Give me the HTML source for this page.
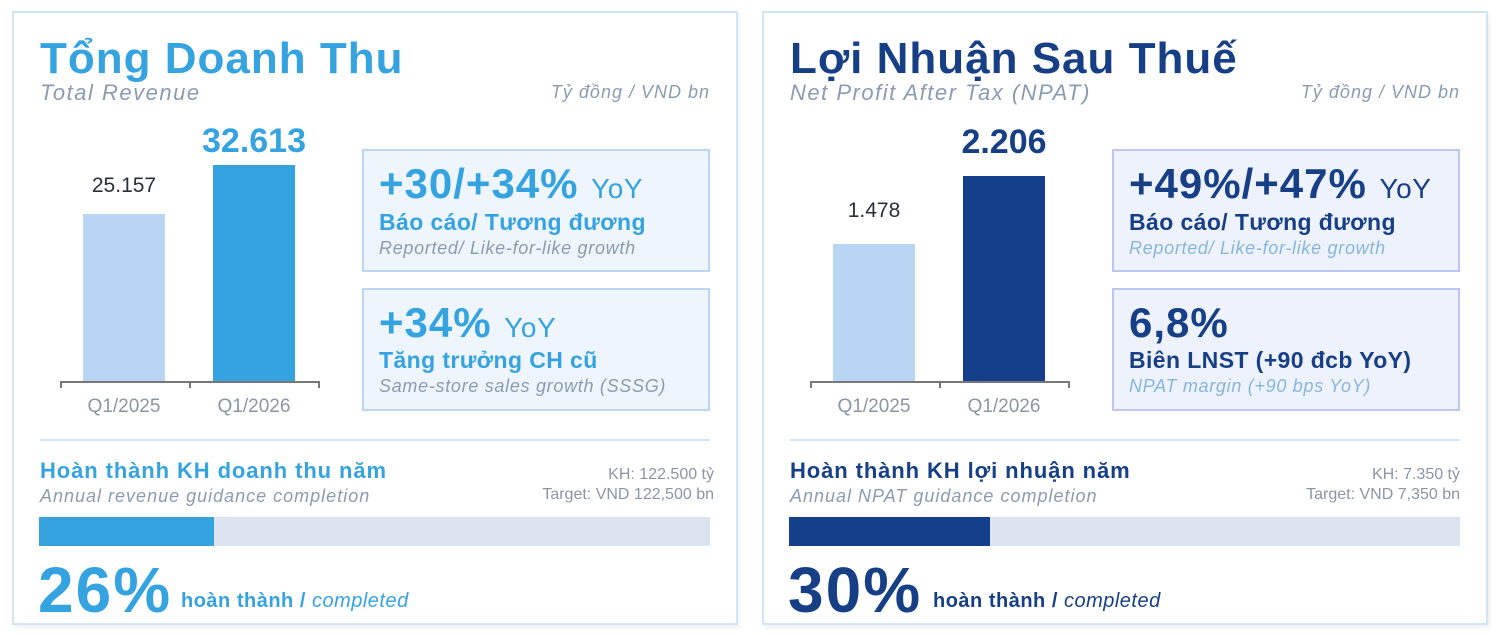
<!DOCTYPE html>
<html><head><meta charset="utf-8"><style>
*{margin:0;padding:0;box-sizing:border-box}
body{width:1505px;height:635px;background:#fff;position:relative;overflow:hidden;font-family:"Liberation Sans",sans-serif}
.a{position:absolute;white-space:nowrap}
.card{position:absolute;top:11px;width:726px;height:614px;border:2px solid #d3e5f5;background:#fff;box-shadow:2px 3px 4px rgba(0,0,0,0.06)}
.it{font-style:italic}
.box{position:absolute;width:348px;height:123px;border:2px solid #bcd7f2;background:#eef5fd}
.box2{border-color:#bcc6f0;background:#eef2fd}
.big{font-size:42px;font-weight:bold;letter-spacing:1px}
.big span{font-size:28px;font-weight:normal;letter-spacing:0.5px}
.bl{font-size:23px;font-weight:bold;letter-spacing:0.4px}
.sub{font-size:18px;letter-spacing:0.7px}
</style></head><body>

<!-- LEFT CARD -->
<div class="card" style="left:12px"></div>
<div class="a" style="left:40px;top:34px;font-size:44px;font-weight:bold;color:#35a3e0;letter-spacing:1px">Tổng Doanh Thu</div>
<div class="a it" style="left:40px;top:80px;font-size:22px;color:#8a9bb2;letter-spacing:1.5px">Total Revenue</div>
<div class="a it" style="right:795px;top:82px;font-size:18px;color:#8a9bb2;letter-spacing:1px">Tỷ đồng / VND bn</div>
<div class="a" style="left:83px;top:214px;width:82px;height:168px;background:#b8d5f3"></div>
<div class="a" style="left:213px;top:165px;width:82px;height:217px;background:#35a3e0"></div>
<div class="a" style="left:60px;top:381px;width:260px;height:2px;background:#777"></div>
<div class="a" style="left:60px;top:381px;width:2px;height:7px;background:#777"></div>
<div class="a" style="left:189px;top:381px;width:2px;height:7px;background:#777"></div>
<div class="a" style="left:318px;top:381px;width:2px;height:7px;background:#777"></div>
<div class="a" style="left:64px;width:120px;text-align:center;top:174px;font-size:21px;color:#2a2f3a">25.157</div>
<div class="a" style="left:184px;width:140px;text-align:center;top:122px;font-size:34px;font-weight:bold;color:#35a3e0">32.613</div>
<div class="a" style="left:64px;width:120px;text-align:center;top:396px;font-size:19px;color:#8a96a6">Q1/2025</div>
<div class="a" style="left:194px;width:120px;text-align:center;top:396px;font-size:19px;color:#8a96a6">Q1/2026</div>

<div class="box" style="left:362px;top:149px"></div>
<div class="a big" style="left:379px;top:160px;color:#35a3e0">+30/+34% <span>YoY</span></div>
<div class="a bl" style="left:379px;top:209px;color:#35a3e0">Báo cáo/ Tương đương</div>
<div class="a it sub" style="left:379px;top:238px;color:#8a9bb2">Reported/ Like-for-like growth</div>
<div class="box" style="left:362px;top:288px"></div>
<div class="a big" style="left:379px;top:299px;color:#35a3e0">+34% <span>YoY</span></div>
<div class="a bl" style="left:379px;top:347px;color:#35a3e0">Tăng trưởng CH cũ</div>
<div class="a it sub" style="left:379px;top:376px;color:#8a9bb2">Same-store sales growth (SSSG)</div>

<div class="a" style="left:40px;top:439px;width:670px;height:2px;background:#d5e6f5"></div>
<div class="a" style="left:40px;top:458px;font-size:22px;font-weight:bold;color:#35a3e0;letter-spacing:0.9px">Hoàn thành KH doanh thu năm</div>
<div class="a it" style="left:40px;top:486px;font-size:18px;color:#8a9bb2;letter-spacing:1px">Annual revenue guidance completion</div>
<div class="a" style="right:791px;top:466px;font-size:16px;color:#8a96a6;text-align:right">KH: 122.500 tỷ</div>
<div class="a" style="right:791px;top:486px;font-size:16px;color:#8a96a6;text-align:right">Target: VND 122,500 bn</div>
<div class="a" style="left:39px;top:517px;width:671px;height:29px;background:#dce3f1"></div>
<div class="a" style="left:39px;top:517px;width:175px;height:29px;background:#35a3e0"></div>
<div class="a" style="left:38px;top:553px;font-size:64px;font-weight:bold;color:#35a3e0;letter-spacing:2px">26%</div>
<div class="a" style="left:181px;top:590px;font-size:20px;color:#35a3e0;letter-spacing:0.5px"><b>hoàn thành /</b> <span class="it">completed</span></div>

<!-- RIGHT CARD -->
<div class="card" style="left:762px"></div>
<div class="a" style="left:790px;top:34px;font-size:44px;font-weight:bold;color:#173f86;letter-spacing:1px">Lợi Nhuận Sau Thuế</div>
<div class="a it" style="left:790px;top:80px;font-size:22px;color:#8a9bb2;letter-spacing:1.5px">Net Profit After Tax (NPAT)</div>
<div class="a it" style="right:45px;top:82px;font-size:18px;color:#8a9bb2;letter-spacing:1px">Tỷ đồng / VND bn</div>
<div class="a" style="left:833px;top:244px;width:82px;height:138px;background:#b8d5f3"></div>
<div class="a" style="left:963px;top:176px;width:82px;height:206px;background:#143f8a"></div>
<div class="a" style="left:810px;top:381px;width:260px;height:2px;background:#777"></div>
<div class="a" style="left:810px;top:381px;width:2px;height:7px;background:#777"></div>
<div class="a" style="left:939px;top:381px;width:2px;height:7px;background:#777"></div>
<div class="a" style="left:1068px;top:381px;width:2px;height:7px;background:#777"></div>
<div class="a" style="left:814px;width:120px;text-align:center;top:199px;font-size:21px;color:#2a2f3a">1.478</div>
<div class="a" style="left:934px;width:140px;text-align:center;top:123px;font-size:34px;font-weight:bold;color:#173f86">2.206</div>
<div class="a" style="left:814px;width:120px;text-align:center;top:396px;font-size:19px;color:#8a96a6">Q1/2025</div>
<div class="a" style="left:944px;width:120px;text-align:center;top:396px;font-size:19px;color:#8a96a6">Q1/2026</div>

<div class="box box2" style="left:1112px;top:149px"></div>
<div class="a big" style="left:1129px;top:160px;color:#173f86">+49%/+47% <span>YoY</span></div>
<div class="a bl" style="left:1129px;top:209px;color:#173f86">Báo cáo/ Tương đương</div>
<div class="a it sub" style="left:1129px;top:238px;color:#86b6dc">Reported/ Like-for-like growth</div>
<div class="box box2" style="left:1112px;top:288px"></div>
<div class="a big" style="left:1129px;top:299px;color:#173f86">6,8%</div>
<div class="a bl" style="left:1129px;top:347px;color:#173f86">Biên LNST (+90 đcb YoY)</div>
<div class="a it sub" style="left:1129px;top:376px;color:#86b6dc">NPAT margin (+90 bps YoY)</div>

<div class="a" style="left:790px;top:439px;width:670px;height:2px;background:#d5e6f5"></div>
<div class="a" style="left:790px;top:458px;font-size:22px;font-weight:bold;color:#173f86;letter-spacing:0.9px">Hoàn thành KH lợi nhuận năm</div>
<div class="a it" style="left:790px;top:486px;font-size:18px;color:#8a9bb2;letter-spacing:1px">Annual NPAT guidance completion</div>
<div class="a" style="right:45px;top:466px;font-size:16px;color:#8a96a6;text-align:right">KH: 7.350 tỷ</div>
<div class="a" style="right:45px;top:486px;font-size:16px;color:#8a96a6;text-align:right">Target: VND 7,350 bn</div>
<div class="a" style="left:789px;top:517px;width:671px;height:29px;background:#dce3f1"></div>
<div class="a" style="left:789px;top:517px;width:201px;height:29px;background:#143f8a"></div>
<div class="a" style="left:788px;top:553px;font-size:64px;font-weight:bold;color:#173f86;letter-spacing:2px">30%</div>
<div class="a" style="left:933px;top:590px;font-size:20px;color:#173f86;letter-spacing:0.5px"><b>hoàn thành /</b> <span class="it">completed</span></div>
</body></html>
